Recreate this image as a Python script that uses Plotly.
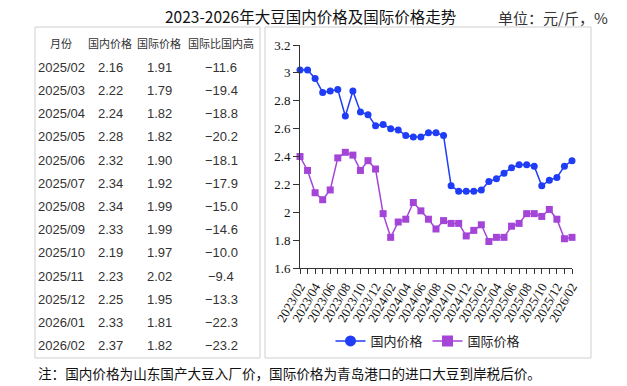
import plotly.graph_objects as go

# ---------------- data ----------------
months = [f"{y}/{m:02d}" for y, m in
          [(2023, m) for m in range(2, 13)] + [(2024, m) for m in range(1, 13)] +
          [(2025, m) for m in range(1, 13)] + [(2026, m) for m in range(1, 3)]]

domestic = [3.02, 3.02, 2.96, 2.86, 2.87, 2.88, 2.69, 2.87, 2.72, 2.70, 2.62, 2.63,
            2.60, 2.59, 2.55, 2.54, 2.54, 2.57, 2.57, 2.55, 2.19, 2.15, 2.15, 2.15,
            2.16, 2.22, 2.24, 2.28, 2.32, 2.34, 2.34, 2.33, 2.19, 2.23, 2.25, 2.33, 2.37]

international = [2.40, 2.30, 2.14, 2.09, 2.16, 2.39, 2.43, 2.41, 2.30, 2.37, 2.31, 1.99,
                 1.82, 1.93, 1.95, 2.07, 2.01, 1.95, 1.88, 1.94, 1.92, 1.92, 1.83, 1.87,
                 1.91, 1.79, 1.82, 1.82, 1.90, 1.92, 1.99, 1.99, 1.97, 2.02, 1.95, 1.81, 1.82]

table_months = ["2025/02", "2025/03", "2025/04", "2025/05", "2025/06", "2025/07", "2025/08",
                "2025/09", "2025/10", "2025/11", "2025/12", "2026/01", "2026/02"]
table_domestic = ["2.16", "2.22", "2.24", "2.28", "2.32", "2.34", "2.34",
                  "2.33", "2.19", "2.23", "2.25", "2.33", "2.37"]
table_international = ["1.91", "1.79", "1.82", "1.82", "1.90", "1.92", "1.99",
                       "1.99", "1.97", "2.02", "1.95", "1.81", "1.82"]
table_ratio = ["−11.6", "−19.4", "−18.8", "−20.2", "−18.1", "−17.9", "−15.0",
               "−14.6", "−10.0", "−9.4", "−13.3", "−22.3", "−23.2"]
table_header = ["月份", "国内价格", "国际价格", "国际比国内高"]

title_text = "2023-2026年大豆国内价格及国际价格走势"
unit_text = "单位：元/斤，%"
note_text = "注：国内价格为山东国产大豆入厂价，国际价格为青岛港口的进口大豆到岸税后价。"
series_names = ["国内价格", "国际价格"]

# ---------------- layout helpers ----------------
W, H = 627, 386
def px(x): return x / W
def py(y): return 1 - y / H

BLUE = "#1f3cf6"
PURPLE = "#a445d8"
CJK = "Noto Sans CJK SC"
SERIF = "Liberation Serif, Times New Roman, serif"
NUM = "Liberation Sans, Arial, sans-serif"

fig = go.Figure()

fig.add_trace(go.Scatter(x=months, y=domestic, mode="lines+markers", name=series_names[0],
                         line=dict(color=BLUE, width=1.5),
                         marker=dict(symbol="circle", size=7, color=BLUE),
                         cliponaxis=False, showlegend=False))
fig.add_trace(go.Scatter(x=months, y=international, mode="lines+markers", name=series_names[1],
                         line=dict(color=PURPLE, width=1.5),
                         marker=dict(symbol="square", size=7, color=PURPLE),
                         cliponaxis=False, showlegend=False))
# legend entries (larger symbols as in the reference legend)
fig.add_trace(go.Scatter(x=[None], y=[None], mode="lines+markers", name=series_names[0],
                         line=dict(color=BLUE, width=1.5),
                         marker=dict(symbol="circle", size=11, color=BLUE)))
fig.add_trace(go.Scatter(x=[None], y=[None], mode="lines+markers", name=series_names[1],
                         line=dict(color=PURPLE, width=1.5),
                         marker=dict(symbol="square", size=11, color=PURPLE)))

ticktext = [m if i % 2 == 0 else "" for i, m in enumerate(months)]

fig.update_layout(
    width=W, height=H, autosize=False,
    margin=dict(l=0, r=0, t=0, b=0, pad=0, autoexpand=False),
    paper_bgcolor="white", plot_bgcolor="white",
    xaxis=dict(domain=[px(300), px(572)], type="category", categoryarray=months,
               range=[0, len(months) - 1], autorange=False, automargin=False,
               tickmode="array", tickvals=months, ticktext=ticktext,
               tickangle=-60, ticks="outside", ticklen=5, tickcolor="#333",
               showline=True, linecolor="#333", linewidth=1, showgrid=False,
               tickfont=dict(family=SERIF, size=13, color="#111")),
    yaxis=dict(domain=[py(268), py(45)], range=[1.6, 3.2], autorange=False, automargin=False,
               tick0=1.6, dtick=0.2, ticks="outside", ticklen=6, tickcolor="#333",
               showline=True, linecolor="#333", linewidth=1, showgrid=False, zeroline=False,
               tickfont=dict(family=SERIF, size=13, color="#111")),
    legend=dict(orientation="h", x=px(428), xanchor="center", y=py(341), yanchor="middle",
                font=dict(family=CJK, size=13, color="#222"), itemwidth=30,
                bgcolor="rgba(0,0,0,0)"),
    showlegend=True,
)

shapes = [
    dict(type="rect", xref="paper", yref="paper", x0=px(35), x1=px(260), y0=py(358), y1=py(27),
         line=dict(color="#cfcfcf", width=1)),
    dict(type="rect", xref="paper", yref="paper", x0=px(265), x1=px(591), y0=py(358), y1=py(27),
         line=dict(color="#cfcfcf", width=1)),
]
fig.update_layout(shapes=shapes)

ann = []
ann.append(dict(text=title_text, x=px(163), y=py(16), xanchor="left", yanchor="middle",
                font=dict(family=CJK, size=15.5, color="#111")))
ann.append(dict(text=unit_text, x=px(553), y=py(17), xanchor="center", yanchor="middle",
                font=dict(family=CJK, size=15, color="#333")))
ann.append(dict(text=note_text, x=px(36), y=py(373), xanchor="left", yanchor="middle",
                font=dict(family=CJK, size=13.6, color="#111")))

col_x = [61, 110, 159, 221]
for cx, h in zip(col_x, table_header):
    ann.append(dict(text=h, x=px(cx), y=py(43), xanchor="center", yanchor="middle",
                    font=dict(family=CJK, size=11, color="#333")))
for i, row in enumerate(zip(table_months, table_domestic, table_international, table_ratio)):
    ry = 67.3 + i * 23.2
    for cx, v in zip(col_x, row):
        ann.append(dict(text=v, x=px(cx), y=py(ry), xanchor="center", yanchor="middle",
                        font=dict(family=NUM, size=13, color="#333")))

for a in ann:
    a.update(xref="paper", yref="paper", showarrow=False)
fig.update_layout(annotations=ann)

fig.write_html("out.html", config={"displayModeBar": False},
               post_script="document.body.style.margin='0';document.body.style.padding='0';")
